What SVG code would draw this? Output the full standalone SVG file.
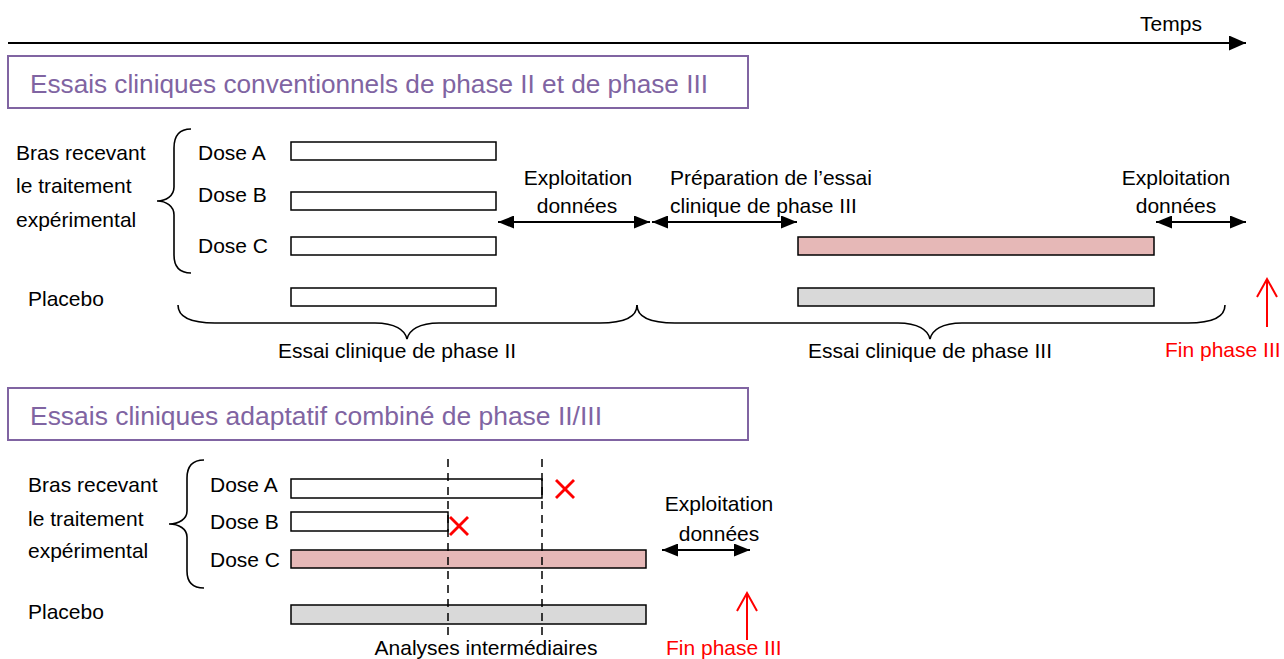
<svg xmlns="http://www.w3.org/2000/svg" width="1284" height="659" viewBox="0 0 1284 659">
<defs>
<marker id="ah" markerUnits="userSpaceOnUse" markerWidth="16" markerHeight="13" refX="16" refY="6.5" orient="auto-start-reverse" viewBox="0 0 16 13">
<path d="M0,0 L16,6.5 L0,13 Z" fill="#000"/>
</marker>
<marker id="ahbig" markerUnits="userSpaceOnUse" markerWidth="17" markerHeight="15" refX="17" refY="7.5" orient="auto" viewBox="0 0 17 15">
<path d="M0,0 L17,7.5 L0,15 Z" fill="#000"/>
</marker>
<style>
text{font-family:"Liberation Sans",Arial,sans-serif;font-size:21px;fill:#000}
.title{font-size:26px;fill:#8064A2}
.red{fill:#FF0000}
.mid{text-anchor:middle}
.tbox{fill:#fff;stroke:#8064A2;stroke-width:2}
.bar{fill:#fff;stroke:#000;stroke-width:1.5}
.pink{fill:#E6B8B7;stroke:#000;stroke-width:1.5}
.grey{fill:#D9D9D9;stroke:#000;stroke-width:1.5}
.brace{fill:none;stroke:#000;stroke-width:1.6}
.darr{stroke:#000;stroke-width:2;fill:none;marker-start:url(#ah);marker-end:url(#ah)}
.rarr{stroke:#FF0000;stroke-width:2;fill:none}
.dash{stroke:#000;stroke-width:1.5;stroke-dasharray:8,6}
.cross{stroke:#FF0000;stroke-width:2.8}
</style>
</defs>
<rect width="1284" height="659" fill="#fff"/>

<g id="time-axis">
<line x1="8" y1="43" x2="1246" y2="43" stroke="#000" stroke-width="2" marker-end="url(#ahbig)"/>
<text x="1171" y="31" class="mid">Temps</text>
</g>

<g id="title-conventional">
<rect class="tbox" x="8" y="56" width="740" height="52"/>
<text class="title" x="30" y="93" textLength="678" lengthAdjust="spacingAndGlyphs">Essais cliniques conventionnels de phase II et de phase III</text>
</g>

<g id="conv-arms-label">
<text x="16" y="160">Bras recevant</text>
<text x="16" y="193">le traitement</text>
<text x="16" y="227">expérimental</text>
<path class="brace" d="M191,129 C180,129 174,135 174,148 L174,187 C174,196 166,201 157,201 C166,201 174,206 174,215 L174,255 C174,267 180,273 191,273"/>
</g>

<g id="conv-phase2">
<text x="198" y="160">Dose A</text>
<rect class="bar" x="291" y="142" width="205" height="18"/>
<text x="198" y="202">Dose B</text>
<rect class="bar" x="291" y="192" width="205" height="18"/>
<text x="198" y="253">Dose C</text>
<rect class="bar" x="291" y="237" width="205" height="18"/>
<text x="28" y="306">Placebo</text>
<rect class="bar" x="291" y="288" width="205" height="18"/>
</g>

<g id="conv-phase3">
<rect class="pink" x="798" y="237" width="356" height="18"/>
<rect class="grey" x="798" y="288" width="356" height="18"/>
</g>

<g id="conv-labels">
<text x="578" y="185" class="mid">Exploitation</text>
<text x="577" y="213" class="mid">données</text>
<text x="670" y="185">Préparation de l’essai</text>
<text x="670" y="213">clinique de phase III</text>
<text x="1176" y="185" class="mid">Exploitation</text>
<text x="1176" y="213" class="mid">données</text>
<path class="brace" d="M178,305 C178,317 190,323 215,323 L375,323 C395,323 405,330 407,339 C409,330 419,323 439,323 L600,323 C625,323 637,317 637,305"/>
<text x="397" y="358" class="mid">Essai clinique de phase II</text>
<path class="brace" d="M637,305 C637,317 650,323 675,323 L898,323 C918,323 928,330 930,339 C932,330 942,323 962,323 L1188,323 C1213,323 1225,317 1225,305"/>
<text x="930" y="358" class="mid">Essai clinique de phase III</text>
<text x="1165" y="357" class="red">Fin phase III</text>
</g>

<g id="title-adaptive">
<rect class="tbox" x="8" y="388" width="740" height="52"/>
<text class="title" x="30" y="425" textLength="572" lengthAdjust="spacingAndGlyphs">Essais cliniques adaptatif combiné de phase II/III</text>
</g>

<g id="adapt-arms-label">
<text x="28" y="492">Bras recevant</text>
<text x="28" y="526">le traitement</text>
<text x="28" y="558">expérimental</text>
<path class="brace" d="M204,460 C193,460 187,466 187,478 L187,511 C187,519 179,524 169,524 C179,524 187,529 187,537 L187,571 C187,582 193,588 204,588"/>
</g>

<g id="adapt-arms">
<text x="210" y="492">Dose A</text>
<rect class="bar" x="291" y="479" width="251" height="19"/>
<text x="210" y="529">Dose B</text>
<rect class="bar" x="291" y="512" width="157" height="19"/>
<text x="210" y="567">Dose C</text>
<rect class="pink" x="291" y="550" width="355" height="18"/>
<text x="28" y="619">Placebo</text>
<rect class="grey" x="291" y="605" width="355" height="19"/>
</g>

<g id="adapt-analyses">
<line class="dash" x1="448" y1="459" x2="448" y2="637"/>
<line class="dash" x1="542" y1="459" x2="542" y2="637"/>
<text x="486" y="655" class="mid">Analyses intermédiaires</text>
<line class="cross" x1="556" y1="480" x2="574" y2="498"/>
<line class="cross" x1="574" y1="480" x2="556" y2="498"/>
<line class="cross" x1="450" y1="517" x2="468" y2="535"/>
<line class="cross" x1="468" y1="517" x2="450" y2="535"/>
</g>

<g id="adapt-labels">
<text x="719" y="511" class="mid">Exploitation</text>
<text x="719" y="541" class="mid">données</text>
<text x="666" y="655" class="red">Fin phase III</text>
</g>

<g id="connectors">
<line class="darr" x1="498" y1="222" x2="650" y2="222"/>
<line class="darr" x1="652" y1="222" x2="797" y2="222"/>
<line class="darr" x1="1156" y1="222" x2="1246" y2="222"/>
<line class="darr" x1="662" y1="550" x2="750" y2="550"/>
<path class="rarr" d="M1267,327 L1267,279 M1257,297 L1267,279 L1277,297"/>
<path class="rarr" d="M747,640 L747,593 M737,611 L747,593 L757,611"/>
</g>
</svg>
